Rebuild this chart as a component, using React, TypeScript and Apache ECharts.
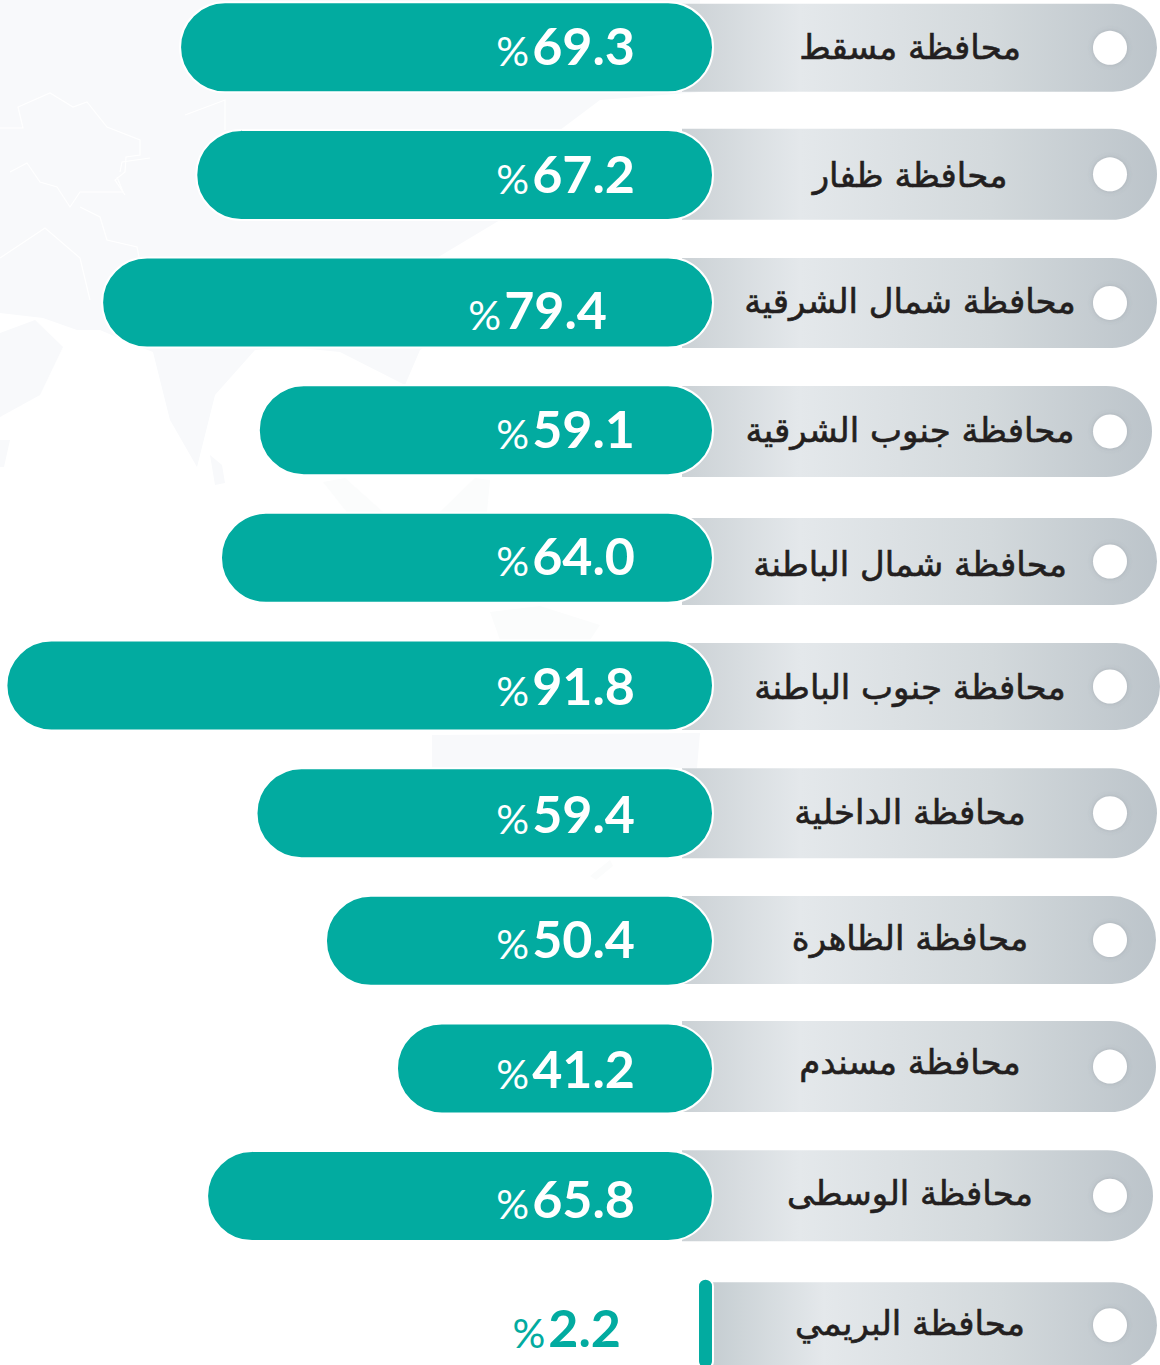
import React, { useEffect, useRef } from "react";
import * as echarts from "echarts";

const provinces = ["محافظة مسقط", "محافظة ظفار", "محافظة شمال الشرقية", "محافظة جنوب الشرقية", "محافظة شمال الباطنة", "محافظة جنوب الباطنة", "محافظة الداخلية", "محافظة الظاهرة", "محافظة مسندم", "محافظة الوسطى", "محافظة البريمي"];
const shares = [69.3, 67.2, 79.4, 59.1, 64.0, 91.8, 59.4, 50.4, 41.2, 65.8, 2.2];

// Layout-only tables (not data)
const pillDy = [0.5, -0.6, 0.3, 1.2, 3.6, 1, 0, -0.7, -1.8, -0.4, 1.5];
const pillH = [88, 91, 90, 91, 87, 87, 90, 88, 91, 91, 86];
const pillEnd = [1157, 1157, 1157, 1152, 1157, 1160, 1157, 1156, 1156, 1153, 1157];
const labelShift = [[0, -2], [0, -2], [-28, 6], [0, -2], [0, -3], [0, -1], [0, 0], [0, -3], [0, 0], [0, 2], [0, 3]];
const nameShift = [0, 0, -2, 0, 6, 1, -1, -3, -6, -3, -1];

const TEAL = "#02aba0";
const MAP = "#f8f9fb";
const MAP_FAINT = "#fbfcfc";
const mapShapes: number[][][] = [
  [[0, 0], [700, 0], [700, 92], [600, 100], [560, 130], [480, 160], [500, 220], [430, 262], [500, 300], [420, 350], [405, 385], [340, 352], [290, 347], [255, 350], [215, 395], [197, 467], [170, 420], [153, 352], [135, 345], [100, 330], [77, 330], [43, 318], [0, 313]],
  [[0, 333], [35, 320], [63, 347], [40, 395], [0, 417]],
  [[0, 440], [10, 440], [4, 467], [0, 467]],
  [[210, 455], [222, 465], [225, 483], [215, 485]],
  [[432, 735], [700, 733], [697, 768], [432, 768]],
];
const faintShapes: number[][][] = [
  [[323, 482], [345, 478], [383, 512], [350, 516]],
  [[440, 512], [475, 478], [490, 480], [487, 512]],
  [[490, 612], [540, 606], [600, 625], [590, 640], [500, 640]],
  [[590, 876], [610, 860], [613, 866], [596, 880]],
];
const mapLines: number[][][] = [
  [[0, 128], [23, 128], [18, 107], [50, 93], [73, 107], [87, 102], [107, 127], [140, 140], [140, 155], [126, 157], [125, 172], [115, 180], [125, 195]],
  [[10, 172], [27, 163], [40, 182], [57, 187], [70, 207], [80, 192], [123, 192], [117, 177]],
  [[80, 207], [100, 217], [107, 240], [137, 247], [140, 262]],
  [[0, 258], [45, 228], [80, 258], [90, 300]],
  [[120, 172], [122, 162], [150, 158]],
  [[185, 115], [225, 100], [225, 130]],
];

export default function App() {
  const ref = useRef<HTMLDivElement>(null);
  useEffect(() => {
    document.body.style.margin = "0";
    const chart = echarts.init(ref.current!, undefined, { renderer: "svg" });
    const numStyle = (color: string) => ({
      n: { fontFamily: "Lato", fontWeight: "bold", fontSize: 52, color },
      p: { fontFamily: "Lato", fontWeight: "normal", fontSize: 41, color, verticalAlign: "bottom", padding: [0, 3, 0, 0] },
    });
    const rows = shares.map((v, i) => ({
      value: v,
      label: {
        offset: labelShift[i],
        ...(v < 5
          ? { position: "left", distance: 0, offset: [-76 + labelShift[i][0], labelShift[i][1]], color: TEAL, rich: numStyle(TEAL) }
          : {}),
      },
    }));
    chart.setOption({
      animation: false,
      backgroundColor: "#ffffff",
      graphic: [
        ...mapShapes.map((points) => ({ type: "polygon", z: -10, silent: true, shape: { points }, style: { fill: MAP } })),
        ...faintShapes.map((points) => ({ type: "polygon", z: -10, silent: true, shape: { points }, style: { fill: MAP_FAINT } })),
        ...mapLines.map((points) => ({ type: "polyline", z: -9, silent: true, shape: { points }, style: { fill: "none", stroke: "#ffffff", lineWidth: 1.2 } })),
      ],
      grid: { left: 0, right: 446, top: -16.5, height: 1404, outerBoundsMode: "none", containLabel: false },
      xAxis: { type: "value", inverse: true, min: 0, max: 92.5, show: false },
      yAxis: {
        type: "category",
        inverse: true,
        data: provinces,
        position: "right",
        axisLine: { show: false },
        axisTick: { show: false },
        axisLabel: { show: false },
      },
      series: [
        {
          type: "custom",
          z: 1,
          silent: true,
          data: shares.map((_, i) => i),
          encode: { x: 0, y: 0 },
          clip: false,
          renderItem: (params: any, api: any) => {
            const i = params.dataIndex;
            const c = api.coord([0, i]);
            const left = i === 10 ? c[0] - 1 : c[0] - 32;
            const h = pillH[i];
            const top = c[1] + pillDy[i] - h / 2;
            const w = pillEnd[i] - left;
            return {
              type: "group",
              children: [
                {
                  type: "rect",
                  shape: { x: left, y: top, width: w, height: h, r: [0, h / 2, h / 2, 0] },
                  style: {
                    fill: new echarts.graphic.LinearGradient(0, 0, 1, 0, [
                      { offset: 0, color: i === 10 ? "#c6ced2" : "#cbd1d5" },
                      { offset: 0.25, color: "#e4e8eb" },
                      { offset: 0.65, color: "#d3d9dc" },
                      { offset: 1, color: "#bcc4ca" },
                    ]),
                  },
                },
                {
                  type: "circle",
                  shape: { cx: 1110, cy: top + h / 2, r: 17 },
                  style: { fill: "#ffffff", shadowBlur: 5, shadowColor: "rgba(90,100,110,0.25)" },
                },
                {
                  type: "text",
                  style: {
                    text: provinces[i],
                    x: 910,
                    y: c[1] + nameShift[i],
                    align: "center",
                    verticalAlign: "middle",
                    font: "34px 'DejaVu Sans'",
                    fill: "#231f20",
                    stroke: "#231f20",
                    lineWidth: 0.6,
                  },
                },
              ],
            };
          },
        },
        {
          type: "bar",
          z: 3,
          data: rows,
          barWidth: 92,
          itemStyle: { color: TEAL, borderColor: "#ffffff", borderWidth: 2, borderRadius: 46 },
          label: {
            show: true,
            position: "insideRight",
            distance: 79,
            formatter: (p: any) => `{p|%}{n|${p.value.toFixed(1)}}`,
            rich: numStyle("#ffffff"),
          },
        },
      ],
    });
    return () => chart.dispose();
  }, []);
  return <div ref={ref} style={{ width: 1160, height: 1365 }} />;
}
